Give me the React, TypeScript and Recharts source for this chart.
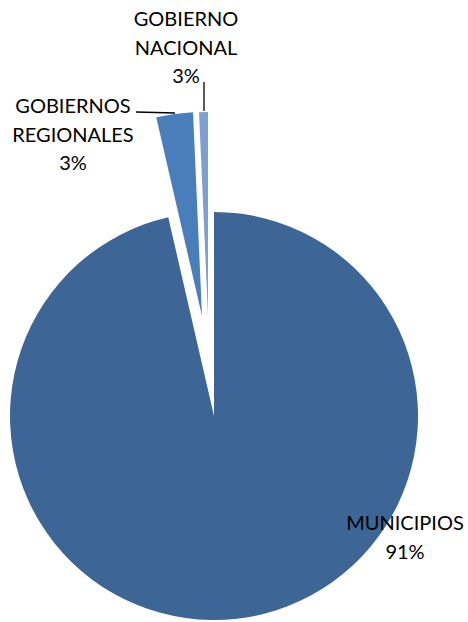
import { Cell, Pie, PieChart } from 'recharts';

const NAMES = ['MUNICIPIOS', 'GOBIERNOS REGIONALES', 'GOBIERNO NACIONAL'];
const VALUES = [96.4, 2.9, 0.7];
const PERCENT_LABELS = ['91%', '3%', '3%'];

const COLORS = ['#3D6596', '#4A7EBB', '#7F9FCE'];

// each slice gets its own pie so the small ones can be pulled out
const SLICE_CENTERS = [
  { cx: 214, cy: 416 },
  { cx: 202, cy: 316 },
  { cx: 208, cy: 316 },
];

// label text blocks (centre x, centre y of first line) and leader lines
const LABEL_LAYOUT = [
  { x: 405, y: 522, lines: ['MUNICIPIOS'], leader: null },
  { x: 73, y: 105, lines: ['GOBIERNOS', 'REGIONALES'], leader: 'M136,112 L175,113' },
  { x: 186, y: 18, lines: ['GOBIERNO', 'NACIONAL'], leader: 'M204,82 L204,111' },
];

const LINE_H = 28.5;

const data = NAMES.map((name, i) => ({ name, value: VALUES[i] }));

function makeLabel(slice: number) {
  return (props: any) => {
    if (props.index !== slice) return null;
    const l = LABEL_LAYOUT[slice];
    const rows = [...l.lines, PERCENT_LABELS[slice]];
    return (
      <g>
        {l.leader && <path d={l.leader} stroke="#000" strokeWidth={1.3} fill="none" />}
        {rows.map((r, k) => (
          <text
            key={k}
            x={l.x}
            y={l.y + k * LINE_H}
            textAnchor="middle"
            dominantBaseline="central"
            fill="#000"
            fontSize={20}
            fontFamily="Lato, 'Open Sans', sans-serif"
          >
            {r}
          </text>
        ))}
      </g>
    );
  };
}

export default function App() {
  return (
    <div style={{ position: 'absolute', left: 0, top: 0, background: '#fff' }}>
      <PieChart width={468} height={622} margin={{ top: 0, right: 0, bottom: 0, left: 0 }}>
        {SLICE_CENTERS.map((c, s) => (
          <Pie
            key={s}
            data={data}
            dataKey="value"
            nameKey="name"
            cx={c.cx}
            cy={c.cy}
            outerRadius={204}
            startAngle={90}
            endAngle={-270}
            stroke="none"
            labelLine={false}
            label={makeLabel(s)}
            isAnimationActive={false}
          >
            {data.map((_, i) => (
              <Cell key={`cell-${i}`} fill={i === s ? COLORS[i] : 'none'} />
            ))}
          </Pie>
        ))}
      </PieChart>
    </div>
  );
}
